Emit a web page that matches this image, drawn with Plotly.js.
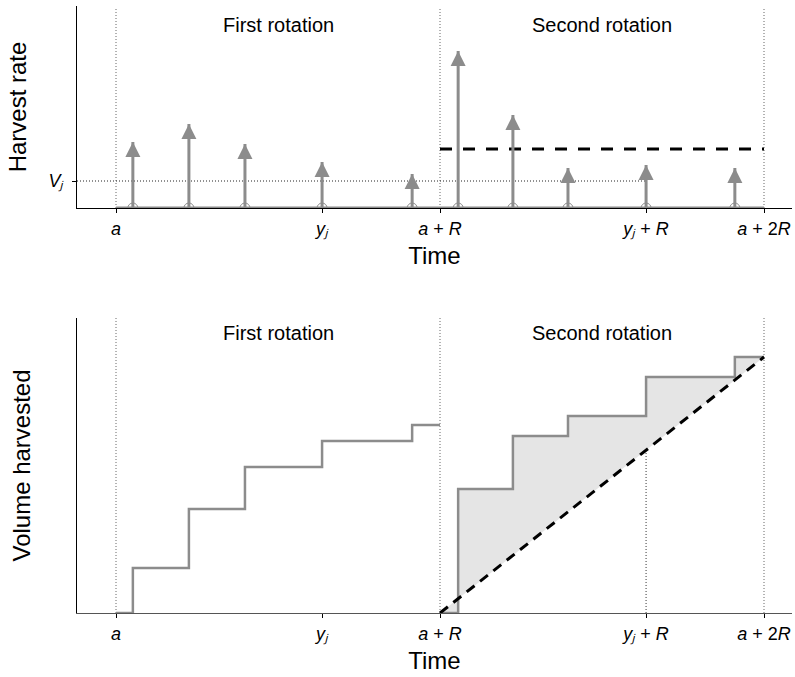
<!DOCTYPE html>
<html>
<head>
<meta charset="utf-8">
<script src="https://cdn.plot.ly/plotly-3.0.1.min.js"></script>
<style>html,body{margin:0;padding:0;background:#fff;}</style>
</head>
<body>
<div id="chart" style="width:795px;height:677px;"></div>
<script>
// ---- data ----
const tickVals = [0, 0.636, 1, 1.636, 2];
const tickText = ['<i>a</i>', '<i>y\u2C7C</i>', '<i>a</i> + <i>R</i>', '<i>y\u2C7C</i> + <i>R</i>', '<i>a</i> + 2<i>R</i>'];
const rotationBounds = [0, 1, 2];
const rotationLabels = ['First rotation', 'Second rotation'];
const rotationMid = [0.5, 1.5];
const harvestTimes1 = [0.052, 0.225, 0.398, 0.636, 0.914];
const harvestRates1 = [6.6, 8.4, 6.4, 4.6, 3.4];
const harvestTimes2 = [1.056, 1.225, 1.395, 1.636, 1.910];
const harvestRates2 = [15.7, 9.3, 4.0, 4.3, 4.0];
const vjLevel = 2.7;
const vjLabel = '<i>V\u2C7C</i>';
const meanRate2 = 5.9;
const cumVolume1 = [4.5, 10.4, 14.6, 17.2, 18.8];
const cumVolume2 = [12.4, 17.7, 19.7, 23.6, 25.6];

// ---- styling ----
const FONT = 'Liberation Sans, Arial, Helvetica, sans-serif';
const GREY = '#8c8c8c';
const xRange = [-0.1204, 2.0864];
const yRange1 = [0, 20.2];
const yRange2 = [0, 29.5];
const DOT = '1px,2px';

const traces = [];
// top panel baseline
traces.push({x: [rotationBounds[0], rotationBounds[2]], y: [0, 0], xaxis: 'x', yaxis: 'y', mode: 'lines',
  line: {color: GREY, width: 3}, hoverinfo: 'skip'});
// mean harvest rate in second rotation
traces.push({x: [rotationBounds[1], rotationBounds[2]], y: [meanRate2, meanRate2], xaxis: 'x', yaxis: 'y', mode: 'lines',
  line: {color: '#000', width: 3, dash: '12px,11px'}, hoverinfo: 'skip'});
// stems
const allTimes = harvestTimes1.concat(harvestTimes2);
const allRates = harvestRates1.concat(harvestRates2);
const stemX = [], stemY = [];
allTimes.forEach((t, i) => { stemX.push(t, t, null); stemY.push(0, allRates[i], null); });
traces.push({x: stemX, y: stemY, xaxis: 'x', yaxis: 'y', mode: 'lines',
  line: {color: GREY, width: 3}, hoverinfo: 'skip'});
// arrow heads
traces.push({x: allTimes, y: allRates, xaxis: 'x', yaxis: 'y', mode: 'markers',
  marker: {symbol: 'arrow-up', size: 15, color: GREY, line: {width: 0}}, hoverinfo: 'skip'});
// open circles at stem bases
traces.push({x: allTimes, y: allTimes.map(() => 0), xaxis: 'x', yaxis: 'y', mode: 'markers',
  marker: {symbol: 'circle-open', size: 10, color: GREY, line: {width: 1, color: GREY}}, hoverinfo: 'skip'});

// bottom panel: shaded area between steps and linear harvest, second rotation
const stepX2 = [rotationBounds[1]].concat(harvestTimes2, [rotationBounds[2]]);
const stepY2 = [0].concat(cumVolume2, [cumVolume2[cumVolume2.length - 1]]);
traces.push({x: stepX2, y: stepY2, xaxis: 'x2', yaxis: 'y2', mode: 'lines', fill: 'toself',
  fillcolor: '#e5e5e5', line: {color: GREY, width: 2.5, shape: 'hv'}, hoverinfo: 'skip'});
// first rotation step
const stepX1 = [rotationBounds[0]].concat(harvestTimes1, [rotationBounds[1]]);
const stepY1 = [0].concat(cumVolume1, [cumVolume1[cumVolume1.length - 1]]);
traces.push({x: stepX1, y: stepY1, xaxis: 'x2', yaxis: 'y2', mode: 'lines',
  line: {color: GREY, width: 2.5, shape: 'hv'}, hoverinfo: 'skip'});
// linear (even-flow) harvest line
traces.push({x: [rotationBounds[1], rotationBounds[2]], y: [0, cumVolume2[cumVolume2.length - 1]], xaxis: 'x2', yaxis: 'y2', mode: 'lines',
  line: {color: '#000', width: 3, dash: '10px,7px'}, hoverinfo: 'skip'});

// shapes: dotted guides
const shapes = [];
rotationBounds.forEach(b => {
  shapes.push({type: 'line', xref: 'x', yref: 'y', x0: b, x1: b, y0: 0, y1: 20.0, layer: 'below',
    line: {color: '#666', width: 1, dash: DOT}});
  shapes.push({type: 'line', xref: 'x2', yref: 'y2', x0: b, x1: b, y0: 0, y1: yRange2[1], layer: 'below',
    line: {color: '#666', width: 1, dash: DOT}});
});
shapes.push({type: 'line', xref: 'x', yref: 'y', x0: xRange[0], x1: tickVals[3], y0: vjLevel, y1: vjLevel, layer: 'below',
  line: {color: '#222', width: 1, dash: DOT}});
shapes.push({type: 'line', xref: 'x2', yref: 'y2', x0: tickVals[3], x1: tickVals[3], y0: 0, y1: cumVolume2[3], layer: 'below',
  line: {color: '#333', width: 1, dash: DOT}});

// annotations: rotation labels
const annotations = [];
rotationLabels.forEach((lab, i) => {
  annotations.push({x: rotationMid[i], y: 1, xref: 'x', yref: 'y domain', yshift: -19, yanchor: 'middle',
    text: lab, showarrow: false, font: {family: FONT, size: 20, color: '#000'}});
  annotations.push({x: rotationMid[i], y: 1, xref: 'x2', yref: 'y2 domain', yshift: -15, yanchor: 'middle',
    text: lab, showarrow: false, font: {family: FONT, size: 20, color: '#000'}});
});

const xCommon = {
  range: xRange, showgrid: false, zeroline: false, showline: true, linecolor: '#000', linewidth: 1,
  ticks: 'outside', ticklen: 4, tickwidth: 1, tickcolor: '#000',
  tickmode: 'array', tickvals: tickVals, ticktext: tickText,
  tickfont: {family: FONT, size: 18, color: '#000'},
  title: {text: 'Time', font: {family: FONT, size: 24, color: '#000'}, standoff: 8},
  layer: 'below traces',
  automargin: false, fixedrange: true
};

const layout = {
  width: 795, height: 677,
  margin: {l: 77, r: 3, t: 6, b: 64},
  paper_bgcolor: '#fff', plot_bgcolor: '#fff',
  showlegend: false,
  font: {family: FONT, color: '#000'},
  xaxis: Object.assign({}, xCommon, {anchor: 'y'}),
  xaxis2: Object.assign({}, xCommon, {anchor: 'y2', linecolor: '#555'}),
  yaxis: {domain: [0.6672, 1], range: yRange1, showgrid: false, zeroline: false, showline: true, linecolor: '#000',
    ticks: 'outside', ticklen: 4, tickcolor: '#000', tickmode: 'array', tickvals: [vjLevel], ticktext: [vjLabel],
    ticklabelstandoff: 5,
    tickfont: {family: FONT, size: 18, color: '#000'},
    title: {text: 'Harvest rate', font: {family: FONT, size: 24, color: '#000'}, standoff: 14},
    automargin: false, fixedrange: true},
  yaxis2: {domain: [0, 0.486], range: yRange2, showgrid: false, zeroline: false, showline: true, linecolor: '#000',
    ticks: '', showticklabels: false,
    title: {text: 'Volume harvested', font: {family: FONT, size: 24, color: '#000'}, standoff: 38},
    automargin: false, fixedrange: true},
  shapes: shapes,
  annotations: annotations
};

Plotly.newPlot('chart', traces, layout, {displayModeBar: false, staticPlot: true});
</script>
</body>
</html>
